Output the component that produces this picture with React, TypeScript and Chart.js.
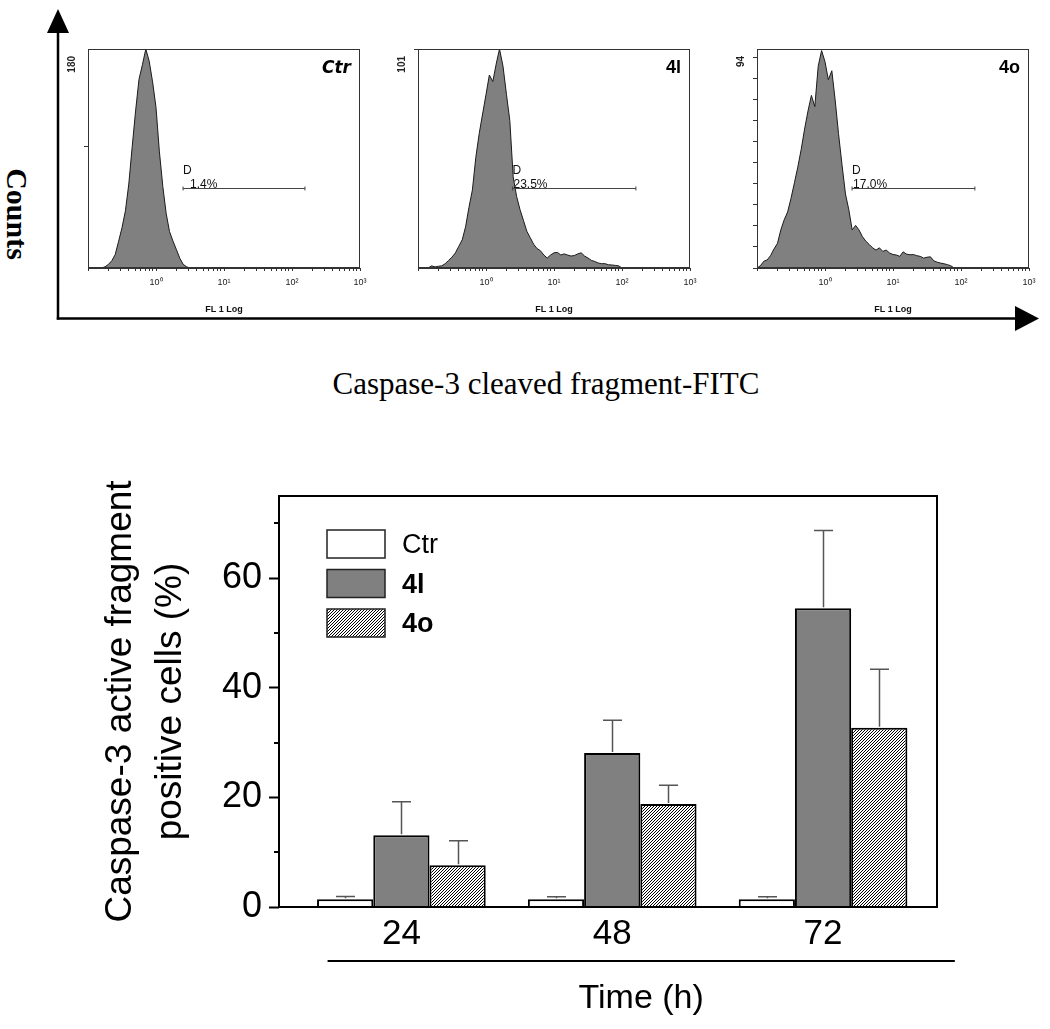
import React, { useEffect, useRef } from 'react';
import { Chart, registerables } from 'chart.js';

Chart.register(...registerables);

const FONT = "'Liberation Sans', Arial, Helvetica, sans-serif";

// ---------------- Top: flow-cytometry histograms ----------------
// fluorescence bins (FL1, log), 20 per decade
const histBins = [
  0.1, 0.112, 0.126, 0.141, 0.158, 0.178, 0.2, 0.224, 0.251, 0.282,
  0.316, 0.355, 0.398, 0.447, 0.501, 0.562, 0.631, 0.708, 0.794, 0.891,
  1.0, 1.12, 1.26, 1.41, 1.58, 1.78, 2.0, 2.24, 2.51, 2.82,
  3.16, 3.55, 3.98, 4.47, 5.01, 5.62, 6.31, 7.08, 7.94, 8.91,
  10, 11.2, 12.6, 14.1, 15.8, 17.8, 20, 22.4, 25.1, 28.2,
  31.6, 35.5, 39.8, 44.7, 50.1, 56.2, 63.1, 70.8, 79.4, 89.1,
  100,
];

const ctrCounts = [
  0, 0, 0, 0, 0, 1, 3, 6, 11, 22,
  33, 47, 69, 100, 129, 155, 167, 180, 170, 153,
  132, 96, 67, 45, 30, 22, 15, 8, 3, 1,
  0, 0, 0, 0, 0, 0, 0, 0, 0, 0,
  0, 0, 0, 0, 0, 0, 0, 0, 0, 0,
  0, 0, 0, 0, 0, 0, 0, 0, 0, 0,
  0,
];

const l4Counts = [
  0, 0, 0, 0, 1, 0.5, 0.8, 1, 2, 3.5,
  5, 7, 10, 13, 19, 28, 36, 51, 62, 71,
  80, 89, 86, 94, 101, 93, 80, 68, 42, 33,
  27, 22, 17, 14, 11, 9, 8, 6, 4.6, 6,
  7, 7.2, 6, 6.5, 6, 5.5, 5.8, 6.5, 7, 5.5,
  4.6, 3.5, 3, 2.3, 2, 2, 1.5, 1.4, 1.2, 1,
  0,
];

const o4Counts = [
  0, 1, 3, 3.6, 5.5, 8.5, 11, 17, 21.5, 25,
  31, 38, 45, 53, 62, 70, 77, 72, 90, 97,
  92, 84, 88, 75, 60, 46, 33, 26, 17, 19,
  17, 14, 12, 10.5, 9, 8, 9, 7.4, 8, 6.7,
  6, 5.8, 5.2, 7.2, 6.2, 5.9, 6, 5.5, 5.2, 4.4,
  4.8, 5, 3.2, 2.6, 2.2, 1.9, 1.5, 1, 0, 0,
  0,
];

const panelNames = ['Ctr', '4l', '4o'];
const panelCounts = [ctrCounts, l4Counts, o4Counts];
const panelYMax = [180, 101, 97.7];
const panelYMaxLabels = ['180', '101', '94'];
const panelYTicks = [
  [100],
  [101],
  [0, 9.4, 18.8, 28.2, 37.6, 47, 56.4, 65.8, 75.2, 84.6, 94],
];
const gatePercents = ['1.4%', '23.5%', '17.0%'];
const gateStart = [2.5, 2.45, 2.5];
const gateEnd = [155, 160, 160];
const gateLevels = [65.8, 36.9, 35.7];

const histXTicks = [
  0.1, 0.2, 0.3, 0.4, 0.5, 0.6, 0.7, 0.8, 0.9,
  1, 2, 3, 4, 5, 6, 7, 8, 9,
  10, 20, 30, 40, 50, 60, 70, 80, 90,
  100, 200, 300, 400, 500, 600, 700, 800, 900, 1000,
];
const decadeLabels: Record<string, string> = { '1': '10\u2070', '10': '10\u00b9', '100': '10\u00b2', '1000': '10\u00b3' };

// layout of the histogram panels (px)
const panelLeft = [88, 418, 757];
const panelPctOffset = [7, 1, 1];

// ---------------- Bottom: bar chart ----------------
const timePoints = [24, 48, 72];
const seriesLabels = ['Ctr', '4l', '4o'];
const ctrValues = [1.4, 1.4, 1.4];
const ctrErrors = [0.5, 0.45, 0.45];
const l4Values = [13.1, 28.1, 54.5];
const l4Errors = [6.1, 6.0, 14.2];
const o4Values = [7.6, 18.8, 32.7];
const o4Errors = [4.5, 3.4, 10.7];
const yMajorTicks = [0, 20, 40, 60];
const yMinorTicks = [10, 30, 50, 70];
const yTitleLines = ['Caspase-3 active fragment', 'positive cells (%)'];
const xTitle = 'Time (h)';
const timeLineSpan = [15.6, 87.0];

function Histogram({ idx }: { idx: number }) {
  const ref = useRef<HTMLCanvasElement | null>(null);
  const L = panelLeft[idx];
  const R = L + 272;
  const cLeft = L - 26;
  const cTop = 40;
  const cW = R + 14 - cLeft;
  const cH = 316 - cTop;

  useEffect(() => {
    if (!ref.current) return;
    const counts = panelCounts[idx];
    const decor = {
      id: 'histDecor' + idx,
      afterDraw(chart: any) {
        const { ctx, chartArea: a, scales } = chart;
        const x = scales.x;
        const y = scales.y;
        ctx.save();
        // frame
        ctx.strokeStyle = '#333';
        ctx.lineWidth = 1;
        ctx.strokeRect(Math.round(a.left) + 0.5, Math.round(a.top) + 0.5, Math.round(a.right - a.left) - 1, Math.round(a.bottom - a.top) - 1);
        // max count label (rotated)
        ctx.save();
        ctx.translate(a.left - 16, a.top + 7);
        ctx.rotate(-Math.PI / 2);
        ctx.font = `bold 10px ${FONT}`;
        ctx.fillStyle = '#222';
        ctx.textAlign = 'right';
        ctx.textBaseline = 'middle';
        ctx.fillText(panelYMaxLabels[idx], 0, 0);
        ctx.restore();
        // gate marker
        const gy = Math.round(y.getPixelForValue(gateLevels[idx])) + 0.5;
        const gx1 = x.getPixelForValue(gateStart[idx]);
        const gx2 = x.getPixelForValue(gateEnd[idx]);
        ctx.strokeStyle = '#444';
        ctx.beginPath();
        ctx.moveTo(gx1, gy);
        ctx.lineTo(gx2, gy);
        ctx.moveTo(gx1, gy - 2);
        ctx.lineTo(gx1, gy + 2);
        ctx.moveTo(gx2, gy - 2);
        ctx.lineTo(gx2, gy + 2);
        ctx.stroke();
        ctx.fillStyle = '#111';
        ctx.font = `12px ${FONT}`;
        ctx.textAlign = 'left';
        ctx.textBaseline = 'alphabetic';
        ctx.fillText('D', gx1, gy - 15);
        ctx.fillText(gatePercents[idx], gx1 + panelPctOffset[idx], gy - 0.5);
        // panel name
        ctx.textAlign = 'right';
        ctx.fillStyle = '#000';
        ctx.font = idx === 0 ? `italic bold 17px 'DejaVu Sans', sans-serif` : `bold 18px ${FONT}`;
        ctx.fillText(panelNames[idx], a.right - 9, a.top + 24);
        ctx.restore();
      },
    };
    const chart = new Chart(ref.current, {
      type: 'line',
      data: {
        datasets: [
          {
            data: histBins.map((b, i) => ({ x: b, y: counts[i] })),
            fill: 'origin',
            backgroundColor: '#808080',
            borderColor: '#1a1a1a',
            borderWidth: 1,
            pointRadius: 0,
            tension: 0,
          },
        ],
      },
      options: {
        responsive: false,
        animation: false,
        devicePixelRatio: 1,
        events: [],
        layout: { padding: { top: 9, right: 14, left: 0, bottom: 0 } },
        plugins: { legend: { display: false }, tooltip: { enabled: false } },
        scales: {
          x: {
            type: 'logarithmic',
            min: 0.1,
            max: 1000,
            afterBuildTicks: (s: any) => {
              s.ticks = histXTicks.map((v) => ({ value: v }));
            },
            afterFit: (s: any) => {
              s.height = 48;
              s.paddingLeft = 0;
              s.paddingRight = 0;
            },
            ticks: {
              autoSkip: false,
              maxRotation: 0,
              minRotation: 0,
              padding: 6,
              color: '#222',
              font: { size: 9, family: FONT },
              callback: (v: any) => decadeLabels[String(v)] ?? '',
            },
            grid: { display: true, drawOnChartArea: false, drawTicks: true, tickLength: 3, color: '#333' },
            border: { display: true, color: '#333', width: 1 },
            title: {
              display: true,
              text: 'FL 1 Log',
              color: '#111',
              font: { size: 9, weight: 'bold', family: FONT },
              padding: { top: 0, bottom: 1.5 },
            },
          },
          y: {
            type: 'linear',
            min: 0,
            max: panelYMax[idx],
            afterBuildTicks: (s: any) => {
              s.ticks = panelYTicks[idx].map((v) => ({ value: v }));
            },
            afterFit: (s: any) => {
              s.width = 26;
              s.paddingTop = 0;
              s.paddingBottom = 0;
            },
            ticks: { display: false },
            grid: { display: true, drawOnChartArea: false, drawTicks: true, tickLength: 4, color: '#333' },
            border: { display: true, color: '#333', width: 1 },
          },
        },
      } as any,
      plugins: [decor],
    });
    return () => chart.destroy();
  }, [idx]);

  return (
    <canvas
      ref={ref}
      width={cW}
      height={cH}
      style={{ position: 'absolute', left: cLeft, top: cTop, width: cW, height: cH }}
    />
  );
}

function makeHatch(): CanvasPattern | string {
  const c = document.createElement('canvas');
  c.width = 3;
  c.height = 3;
  const g = c.getContext('2d');
  if (!g) return '#999';
  g.fillStyle = '#fff';
  g.fillRect(0, 0, 3, 3);
  g.strokeStyle = '#000';
  g.lineWidth = 1;
  g.beginPath();
  g.moveTo(0, 3);
  g.lineTo(3, 0);
  g.moveTo(-1, 1);
  g.lineTo(1, -1);
  g.moveTo(2, 4);
  g.lineTo(4, 2);
  g.stroke();
  return g.createPattern(c, 'repeat') || '#999';
}

function BarChart() {
  const ref = useRef<HTMLCanvasElement | null>(null);
  const cTop = 470;
  const cW = 1050;
  const cH = 1029 - cTop;

  useEffect(() => {
    if (!ref.current) return;
    const hatch = makeHatch();
    const values = [ctrValues, l4Values, o4Values];
    const errors = [ctrErrors, l4Errors, o4Errors];
    const fills: any[] = ['#ffffff', '#808080', hatch];

    const decor = {
      id: 'barDecor',
      afterDatasetsDraw(chart: any) {
        const { ctx, scales } = chart;
        const y = scales.y;
        ctx.save();
        ctx.strokeStyle = '#555';
        ctx.lineWidth = 1.5;
        chart.data.datasets.forEach((_ds: any, di: number) => {
          const meta = chart.getDatasetMeta(di);
          meta.data.forEach((bar: any, i: number) => {
            const v = values[di][i];
            const yb = y.getPixelForValue(v);
            const yt = y.getPixelForValue(v + errors[di][i]);
            const bx = Math.round(bar.x) + 0.5;
            ctx.beginPath();
            ctx.moveTo(bx, yb - 1);
            ctx.lineTo(bx, yt);
            ctx.moveTo(bx - 9.5, yt);
            ctx.lineTo(bx + 9.5, yt);
            ctx.stroke();
          });
        });
        ctx.restore();
      },
      afterDraw(chart: any) {
        const { ctx, chartArea: a, scales } = chart;
        const x = scales.x;
        const y = scales.y;
        ctx.save();
        // frame
        ctx.strokeStyle = '#000';
        ctx.lineWidth = 2;
        ctx.strokeRect(a.left, a.top, a.right - a.left, a.bottom - a.top);
        // minor ticks
        ctx.beginPath();
        yMinorTicks.forEach((v) => {
          const py = Math.round(y.getPixelForValue(v));
          ctx.moveTo(a.left, py);
          ctx.lineTo(a.left - 5, py);
        });
        ctx.stroke();
        // legend
        const bx = a.left + 48;
        seriesLabels.forEach((lab, i) => {
          const by = a.top + 34 + i * 39.5;
          ctx.fillStyle = fills[i];
          ctx.fillRect(bx, by, 58, 28);
          ctx.strokeStyle = '#222';
          ctx.lineWidth = 1.5;
          ctx.strokeRect(bx, by, 58, 28);
          ctx.fillStyle = '#000';
          ctx.font = `${i === 0 ? '' : 'bold '}27px ${FONT}`;
          ctx.textAlign = 'left';
          ctx.textBaseline = 'middle';
          ctx.fillText(lab, bx + 75, by + 16);
        });
        // time axis line and title
        const lx1 = x.getPixelForValue(timeLineSpan[0]);
        const lx2 = x.getPixelForValue(timeLineSpan[1]);
        const ly = a.bottom + 54;
        ctx.strokeStyle = '#000';
        ctx.lineWidth = 2;
        ctx.beginPath();
        ctx.moveTo(lx1, ly);
        ctx.lineTo(lx2, ly);
        ctx.stroke();
        ctx.fillStyle = '#000';
        ctx.font = `34px ${FONT}`;
        ctx.textAlign = 'center';
        ctx.textBaseline = 'middle';
        ctx.fillText(xTitle, (lx1 + lx2) / 2, a.bottom + 92);
        ctx.restore();
      },
    };

    const chart = new Chart(ref.current, {
      type: 'bar',
      data: {
        datasets: seriesLabels.map((lab, di) => ({
          label: lab,
          data: timePoints.map((t, i) => ({ x: t, y: values[di][i] })),
          backgroundColor: fills[di],
          borderColor: '#000',
          borderWidth: 2,
          borderSkipped: 'start',
        })),
      },
      options: {
        responsive: false,
        animation: false,
        devicePixelRatio: 1,
        events: [],
        layout: { padding: { top: 26, right: 113, left: 0, bottom: 0 } },
        datasets: { bar: { categoryPercentage: 0.8, barPercentage: 1.0 } },
        plugins: { legend: { display: false }, tooltip: { enabled: false } },
        scales: {
          x: {
            type: 'linear',
            min: 10.07,
            max: 84.97,
            offset: false,
            afterBuildTicks: (s: any) => {
              s.ticks = timePoints.map((v) => ({ value: v }));
            },
            afterFit: (s: any) => {
              s.height = 122;
              s.paddingLeft = 0;
              s.paddingRight = 0;
            },
            ticks: {
              autoSkip: false,
              maxRotation: 0,
              minRotation: 0,
              padding: 6,
              color: '#000',
              font: { size: 35, family: FONT },
              callback: (v: any) => String(v),
            },
            grid: { display: false, drawTicks: false },
            border: { display: false },
          },
          y: {
            type: 'linear',
            min: 0,
            max: 75,
            afterBuildTicks: (s: any) => {
              s.ticks = yMajorTicks.map((v) => ({ value: v }));
            },
            afterFit: (s: any) => {
              s.width = 279;
              s.paddingTop = 0;
              s.paddingBottom = 0;
            },
            ticks: { padding: 7, color: '#000', font: { size: 36, family: FONT } },
            grid: { display: true, drawOnChartArea: false, drawTicks: true, tickLength: 10, tickWidth: 2, tickColor: '#000' },
            border: { display: false },
            title: {
              display: true,
              text: yTitleLines,
              color: '#000',
              font: { size: 37, family: FONT, lineHeight: '50px' },
              padding: { top: 95.5, bottom: 0 },
            },
          },
        },
      } as any,
      plugins: [decor],
    });
    return () => chart.destroy();
  }, []);

  return (
    <canvas
      ref={ref}
      width={cW}
      height={cH}
      style={{ position: 'absolute', left: 0, top: cTop, width: cW, height: cH }}
    />
  );
}

export default function App() {
  return (
    <div
      style={{
        position: 'absolute',
        left: 0,
        top: 0,
        width: 1050,
        height: 1029,
        background: '#fff',
        overflow: 'hidden',
      }}
    >
      <svg width={1050} height={1029} style={{ position: 'absolute', left: 0, top: 0 }}>
        <line x1={58} y1={319.5} x2={58} y2={28} stroke="#000" strokeWidth={2.5} />
        <polygon points="58,9 47,33 69,33" fill="#000" />
        <line x1={56.75} y1={318.5} x2={1018} y2={318.5} stroke="#000" strokeWidth={2.5} />
        <polygon points="1039,318.5 1015,306 1015,331" fill="#000" />
      </svg>
      <div
        style={{
          position: 'absolute',
          left: 17,
          top: 213.5,
          transform: 'translate(-50%, -50%) rotate(90deg)',
          font: "bold 30px 'Liberation Serif', 'Times New Roman', serif",
          lineHeight: '30px',
          whiteSpace: 'nowrap',
          color: '#000',
        }}
      >
        Counts
      </div>
      {[0, 1, 2].map((i) => (
        <Histogram key={i} idx={i} />
      ))}
      <div
        style={{
          position: 'absolute',
          left: 0,
          width: 1092,
          top: 368,
          textAlign: 'center',
          font: "31px 'Liberation Serif', 'Times New Roman', serif",
          lineHeight: '31px',
          whiteSpace: 'nowrap',
          color: '#000',
        }}
      >
        Caspase-3 cleaved fragment-FITC
      </div>
      <BarChart />
    </div>
  );
}
